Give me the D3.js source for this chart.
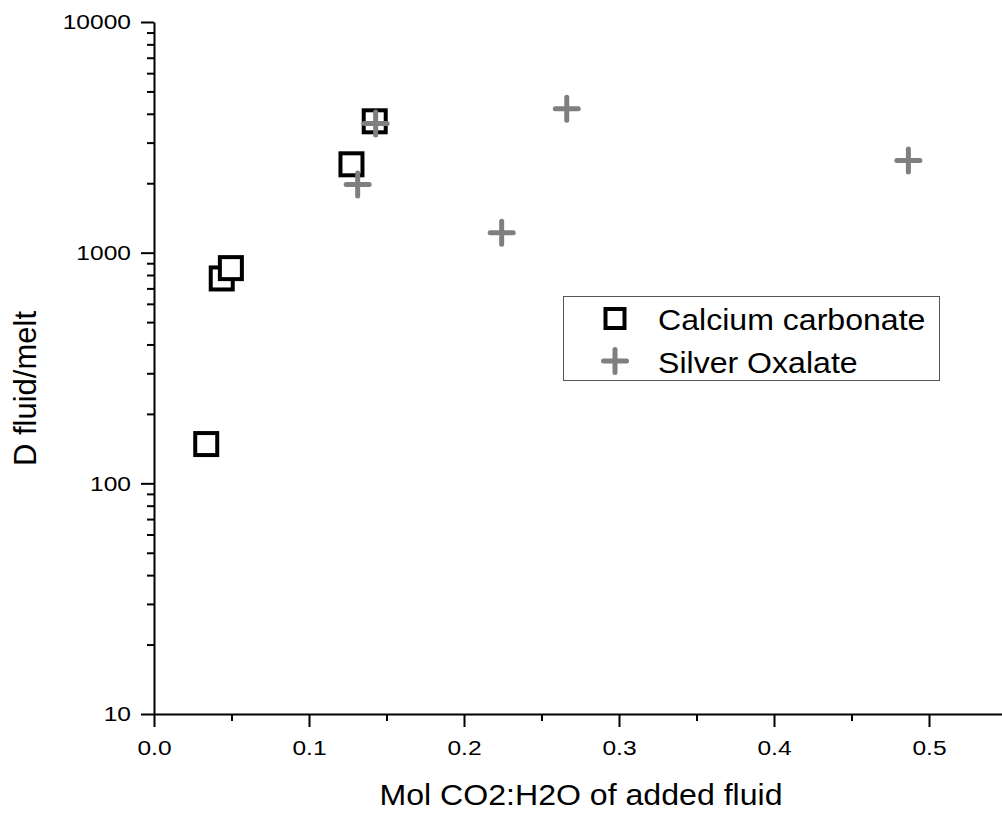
<!DOCTYPE html>
<html>
<head>
<meta charset="utf-8">
<script src="https://cdn.jsdelivr.net/npm/d3@7"></script>
<style>
  html, body { margin: 0; padding: 0; background: #fff; }
  svg { display: block; font-family: "Liberation Sans", Arial, sans-serif; }
  .tick text { font-size: 21px; font-family: "Liberation Sans", Arial, sans-serif; }
</style>
</head>
<body>
<svg id="chart" width="1002" height="815"></svg>
<script>
// Calcium carbonate runs: CO2:H2O mole ratio vs D fluid/melt
const carbonateX = [0.0337, 0.0437, 0.0496, 0.1274, 0.1424];
const carbonateY = [148, 773, 857, 2416, 3711];

// Silver oxalate runs
const oxalateX = [0.1430, 0.1314, 0.2663, 0.2243, 0.4867];
const oxalateY = [3635, 1977, 4205, 1220, 2512];

// Axis ticks
const xMajorTicks = [0, 0.1, 0.2, 0.3, 0.4, 0.5];
const xMinorTicks = [0.05, 0.15, 0.25, 0.35, 0.45, 0.55];
const yMajorTicks = [10, 100, 1000, 10000];
const yMinorTicks = [];
[10, 100, 1000].forEach(d => { for (let k = 2; k <= 9; k++) yMinorTicks.push(d * k); });

const xTitle = "Mol CO2:H2O of added fluid";
const yTitle = "D fluid/melt";
const seriesNames = ["Calcium carbonate", "Silver Oxalate"];

const svg = d3.select("#chart");
svg.append("rect").attr("width", 1002).attr("height", 815).attr("fill", "#fff");

const x = d3.scaleLinear().domain([0, 0.55]).range([154, 1006.5]);
const y = d3.scaleLog().domain([10, 10000]).range([714, 22]);

const grey = "#7f7f7f";
const tickFont = 21;

// minor ticks
svg.append("g")
  .attr("transform", "translate(0,714)")
  .call(d3.axisBottom(x).tickValues(xMinorTicks).tickSize(7).tickFormat(""))
  .call(g => g.select(".domain").remove())
  .call(g => g.selectAll("line").attr("stroke", "#000").attr("stroke-width", 2));

svg.append("g")
  .attr("transform", "translate(154,0)")
  .call(d3.axisLeft(y).tickValues(yMinorTicks).tickSize(7).tickFormat(""))
  .call(g => g.select(".domain").remove())
  .call(g => g.selectAll("line").attr("stroke", "#000").attr("stroke-width", 2));

// major x axis
const gx = svg.append("g")
  .attr("transform", "translate(0,714)")
  .call(d3.axisBottom(x).tickValues(xMajorTicks).tickSize(13).tickSizeOuter(0).tickPadding(13).tickFormat(d3.format(".1f")));
gx.attr("font-size", tickFont).attr("font-family", "'Liberation Sans', Arial, sans-serif");
gx.select(".domain").attr("stroke", "#000").attr("stroke-width", 2);
gx.selectAll(".tick line").attr("stroke", "#000").attr("stroke-width", 2);
gx.selectAll(".tick text")
  .attr("fill", "#000")
  .attr("transform", "scale(1.17,1)");

// major y axis
const gy = svg.append("g")
  .attr("transform", "translate(154,0)")
  .call(d3.axisLeft(y).tickValues(yMajorTicks).tickSize(13).tickSizeOuter(0).tickFormat(d3.format("d")));
gy.attr("font-size", tickFont).attr("font-family", "'Liberation Sans', Arial, sans-serif");
gy.select(".domain").attr("stroke", "#000").attr("stroke-width", 2);
gy.selectAll(".tick line").attr("stroke", "#000").attr("stroke-width", 2);
gy.selectAll(".tick text")
  .attr("fill", "#000")
  .attr("x", 0)
  .attr("transform", "translate(-23,0) scale(1.17,1)");

// axis titles
svg.append("text")
  .attr("transform", "translate(581,805) scale(1.07,1)")
  .attr("text-anchor", "middle")
  .attr("font-size", 30)
  .attr("fill", "#000")
  .text(xTitle);

svg.append("text")
  .attr("transform", "translate(36,388.5) rotate(-90)")
  .attr("text-anchor", "middle")
  .attr("font-size", 31)
  .attr("fill", "#000")
  .text(yTitle);

// markers
const sq = 22;
const carbonate = carbonateX.map((v, i) => ({ x: v, y: carbonateY[i] }));
const oxalate = oxalateX.map((v, i) => ({ x: v, y: oxalateY[i] }));

svg.append("g").selectAll("rect")
  .data(carbonate)
  .join("rect")
  .attr("x", d => x(d.x) - sq / 2)
  .attr("y", d => y(d.y) - sq / 2)
  .attr("width", sq).attr("height", sq)
  .attr("fill", "#fff")
  .attr("stroke", "#000")
  .attr("stroke-width", 4);

function cross(g, cx, cy, half) {
  g.append("line").attr("x1", cx - half).attr("x2", cx + half).attr("y1", cy).attr("y2", cy);
  g.append("line").attr("x1", cx).attr("x2", cx).attr("y1", cy - half).attr("y2", cy + half);
}

const crosses = svg.append("g")
  .attr("stroke", grey).attr("stroke-width", 5).attr("stroke-linecap", "round");
oxalate.forEach(d => cross(crosses, x(d.x), y(d.y), 11.5));

// legend
const legend = svg.append("g");
legend.append("rect")
  .attr("x", 563.5).attr("y", 296.5).attr("width", 376).attr("height", 84)
  .attr("fill", "#fff").attr("stroke", "#555").attr("stroke-width", 1);
legend.append("rect")
  .attr("x", 615 - 9.5).attr("y", 318.5 - 9.5).attr("width", 19).attr("height", 19)
  .attr("fill", "#fff").attr("stroke", "#000").attr("stroke-width", 4);
const lc = legend.append("g").attr("stroke", grey).attr("stroke-width", 5).attr("stroke-linecap", "round");
cross(lc, 615, 361, 11.5);
legend.selectAll("text.lbl")
  .data(seriesNames)
  .join("text")
  .attr("class", "lbl")
  .attr("transform", (d, i) => `translate(658,${330 + i * 43}) scale(1.07,1)`)
  .attr("font-size", 30)
  .attr("fill", "#000")
  .text(d => d);
</script>
</body>
</html>
